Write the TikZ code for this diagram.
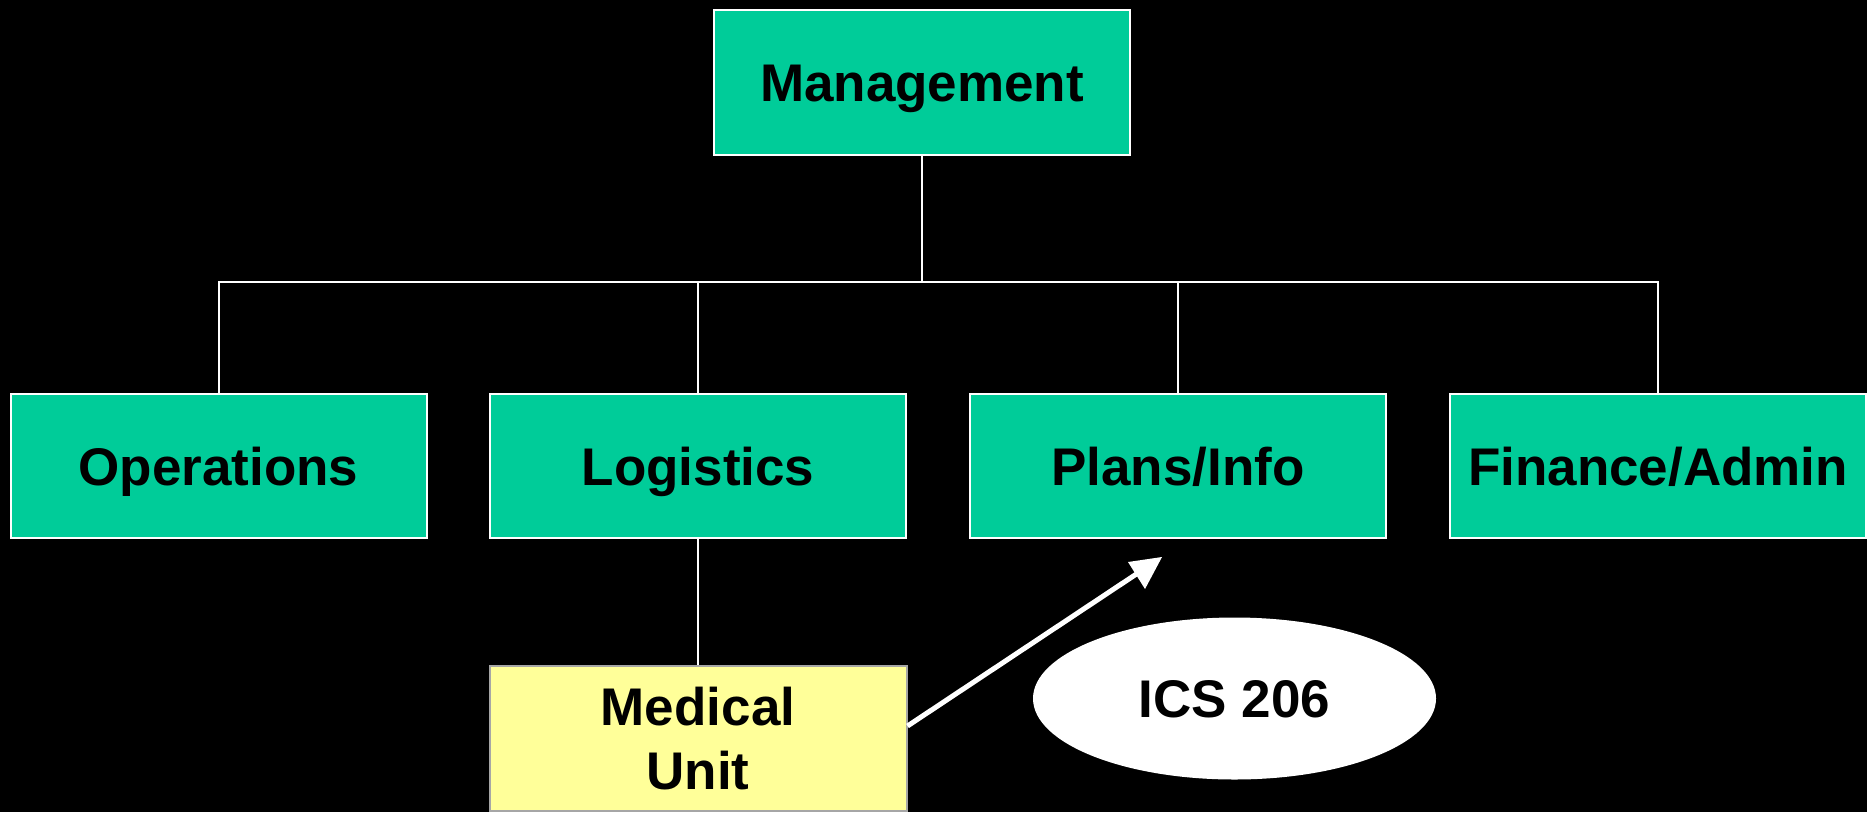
\documentclass[tikz,border=0pt]{standalone}
\usepackage{fontspec}
\setmainfont{Liberation Sans}
\usetikzlibrary{shapes.geometric,calc}
\definecolor{boxgreen}{HTML}{00CC99}
\definecolor{boxyellow}{HTML}{FFFF99}
\begin{document}
\begin{tikzpicture}[x=1pt,y=-1pt,
  orgbox/.style={draw=white,line width=2pt,fill=boxgreen,minimum width=416pt,minimum height=144pt,inner sep=0pt,text height=38pt,text depth=0pt,font=\fontsize{53}{60}\selectfont\bfseries,text=black},
  conn/.style={draw=white,line width=2pt}]
\fill[black] (0,0) rectangle (1867,812);
\useasboundingbox (0,0) rectangle (1867,812);
\node[orgbox,minimum width=416pt,minimum height=145pt] (mgmt) at (922,82.5) {Management};
\node[orgbox] (ops) at (218.5,466) {Operations};
\node[orgbox] (log) at (698,466) {Logistics};
\node[orgbox] (plans) at (1178,466) {Plans/Info};
\node[orgbox] (fin) at (1658,466) {Finance/Admin};
\node[draw=gray!70,line width=2pt,fill=boxyellow,minimum width=417pt,minimum height=145pt,inner sep=0pt,align=center,font=\fontsize{53}{64}\selectfont\bfseries] (med) at (698,738.5) {Medical\\Unit};
\node[ellipse,fill=white,minimum width=403pt,minimum height=162pt,inner sep=0pt,text height=38pt,text depth=0pt,font=\fontsize{53}{60}\selectfont\bfseries] (ics) at (1234.5,698.5) {ICS 206};
\coordinate (bus) at (922,282);
\draw[conn] (mgmt.south) -- (bus);
\draw[conn] (ops.north) |- (bus) -| (fin.north);
\draw[conn] (log.north) -- (log.north |- bus);
\draw[conn] (plans.north) -- (plans.north |- bus);
\draw[conn] (log.south) -- (med.north);
\coordinate (tip) at (1162,557);
\path (med.east) ++(0,-12.5) coordinate (start);
\draw[white,line width=5pt] (start) -- ($(tip)!28pt!(start)$);
\fill[white] (tip) -- (1128,562) -- (1145,589) -- cycle;
\end{tikzpicture}
\end{document}
